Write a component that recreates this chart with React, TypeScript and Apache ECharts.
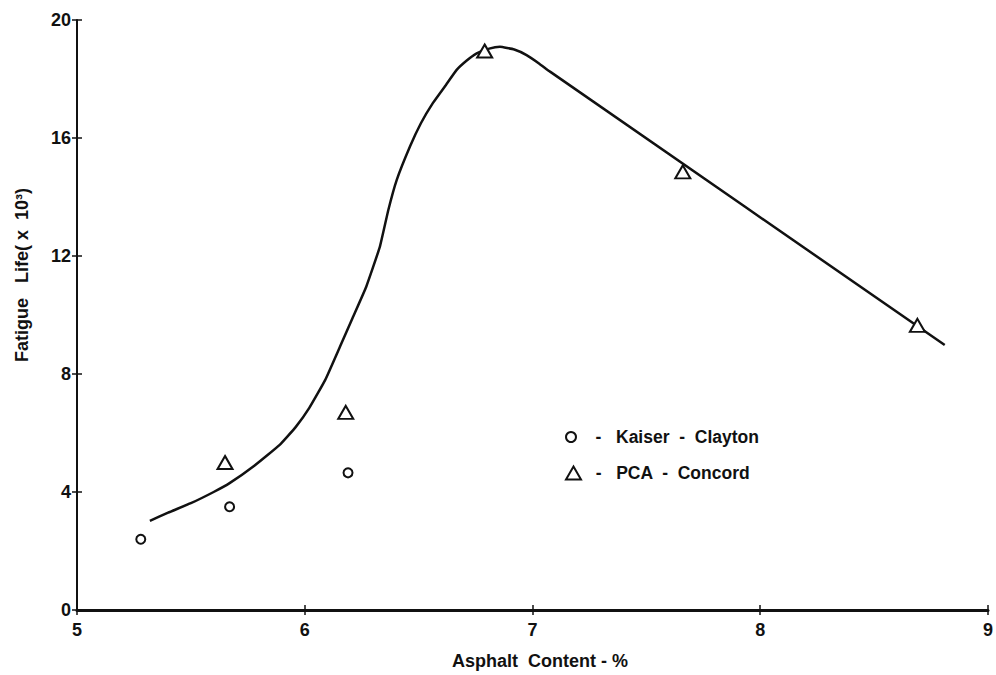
import React, { useEffect, useRef } from "react";
import * as echarts from "echarts";

const xTicks = [5, 6, 7, 8, 9];
const yTicks = [0, 4, 8, 12, 16, 20];
const kaiserClayton: [number, number][] = [
  [5.28, 2.4],
  [5.67, 3.5],
  [6.19, 4.65],
];
const pcaConcord: [number, number][] = [
  [5.65, 5.0],
  [6.18, 6.7],
  [6.79, 18.95],
  [7.66, 14.85],
  [8.69, 9.65],
];
const fittedCurve: [number, number][] = [
  [5.32, 3.02],
  [5.4, 3.3],
  [5.5, 3.62],
  [5.6, 4.0],
  [5.67, 4.3],
  [5.78, 4.9],
  [5.89, 5.6],
  [5.96, 6.2],
  [6.02, 6.85],
  [6.09, 7.8],
  [6.155, 8.93],
  [6.21, 9.9],
  [6.27, 10.96],
  [6.33, 12.32],
  [6.367, 13.56],
  [6.404, 14.58],
  [6.462, 15.71],
  [6.51, 16.5],
  [6.563, 17.19],
  [6.62, 17.8],
  [6.667, 18.31],
  [6.71, 18.62],
  [6.755, 18.87],
  [6.81, 19.03],
  [6.857, 19.09],
  [6.92, 19.0],
  [6.974, 18.81],
  [7.03, 18.52],
  [7.077, 18.25],
  [8.81, 8.98],
];

const FONT = "'Liberation Sans', Arial, sans-serif";
const INK = "#111";

export default function App() {
  const ref = useRef<HTMLDivElement>(null);
  useEffect(() => {
    if (!ref.current) return;
    const chart = echarts.init(ref.current, undefined, { renderer: "svg" });
    const axisText = { color: INK, fontSize: 18, fontWeight: "bold" as const, fontFamily: FONT };
    const baseX = {
      type: "value" as const,
      min: xTicks[0],
      max: xTicks[xTicks.length - 1],
      interval: 1,
      splitLine: { show: false },
    };
    const baseY = {
      type: "value" as const,
      min: yTicks[0],
      max: yTicks[yTicks.length - 1],
      interval: 4,
      splitLine: { show: false },
    };
    const legendText = { color: INK, fontSize: 17.5, fontWeight: "bold" as const, fontFamily: FONT };
    chart.setOption({
      animation: false,
      backgroundColor: "#fff",
      grid: { left: 77, right: 8, top: 20, bottom: 65, containLabel: false },
      xAxis: [
        {
          ...baseX,
          position: "bottom",
          axisLine: { show: true, onZero: false, lineStyle: { color: INK, width: 3 } },
          axisTick: { show: true, length: 5, lineStyle: { color: INK, width: 1.5 } },
          axisLabel: { ...axisText, margin: 11 },
        },
        {
          ...baseX,
          position: "bottom",
          offset: 0,
          axisLine: { show: false, onZero: false },
          axisTick: { show: true, inside: true, length: 5, lineStyle: { color: INK, width: 1.5 } },
          axisLabel: { show: false },
        },
      ],
      yAxis: [
        {
          ...baseY,
          position: "left",
          axisLine: { show: true, onZero: false, lineStyle: { color: INK, width: 2 } },
          axisTick: { show: true, length: 5, lineStyle: { color: INK, width: 1.5 } },
          axisLabel: { ...axisText, margin: 6 },
        },
        {
          ...baseY,
          position: "left",
          offset: 0,
          axisLine: { show: false, onZero: false },
          axisTick: { show: true, inside: true, length: 5, lineStyle: { color: INK, width: 1.5 } },
          axisLabel: { show: false },
        },
      ],
      legend: [
        {
          left: 560,
          top: 423,
          itemWidth: 10,
          itemHeight: 10,
          data: ["Kaiser  -  Clayton"],
          formatter: (n: string) => "   -   " + n,
          textStyle: legendText,
          selectedMode: false,
        },
        {
          left: 560,
          top: 459,
          itemWidth: 15,
          itemHeight: 13,
          data: ["PCA  -  Concord"],
          formatter: (n: string) => "  -   " + n,
          textStyle: legendText,
          selectedMode: false,
        },
      ],
      graphic: [
        {
          type: "text",
          x: 540,
          y: 661,
          style: {
            text: "Asphalt  Content - %",
            fill: INK,
            font: `bold 18px ${FONT}`,
            textAlign: "center",
            textVerticalAlign: "middle",
          },
        },
        {
          type: "text",
          x: 22,
          y: 275,
          rotation: Math.PI / 2,
          style: {
            text: "Fatigue   Life( x  10³)",
            fill: INK,
            font: `bold 18px ${FONT}`,
            textAlign: "center",
            textVerticalAlign: "middle",
          },
        },
      ],
      series: [
        {
          type: "line",
          name: "curve",
          data: fittedCurve,
          smooth: 0.12,
          showSymbol: false,
          lineStyle: { color: INK, width: 2.5, join: "round" },
          z: 2,
        },
        {
          type: "scatter",
          name: "Kaiser  -  Clayton",
          data: kaiserClayton,
          symbol: "circle",
          symbolSize: 9,
          itemStyle: { color: "#fff", borderColor: INK, borderWidth: 2, opacity: 1 },
          z: 3,
        },
        {
          type: "scatter",
          name: "PCA  -  Concord",
          data: pcaConcord,
          symbol: "triangle",
          symbolSize: [15, 13],
          itemStyle: { color: "#fff", borderColor: INK, borderWidth: 2, opacity: 1 },
          z: 3,
        },
      ],
    });
    return () => chart.dispose();
  }, []);
  return (
    <div
      ref={ref}
      style={{ position: "absolute", left: 0, top: 0, width: 996, height: 675, background: "#fff" }}
    />
  );
}
